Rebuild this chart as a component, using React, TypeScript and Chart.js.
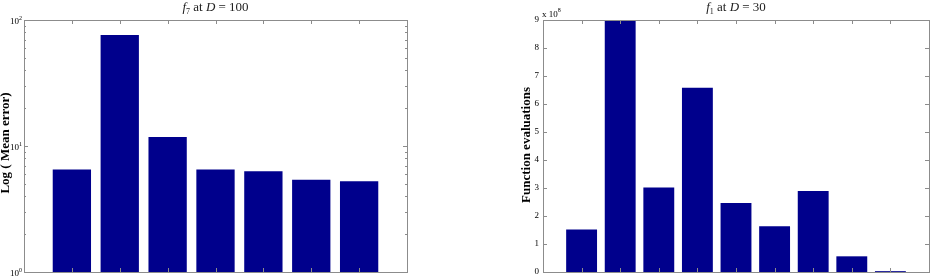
import React, { useEffect, useRef } from "react";
import { Chart, registerables } from "chart.js";

Chart.register(...registerables);

// Left panel: f7 at D = 100 (log scale)
const leftValues = [6.5, 76, 11.8, 6.5, 6.3, 5.4, 5.25];
const leftTicks = [0, 1, 2]; // exponents 10^0..10^2
// Right panel: f1 at D = 30 (x 10^8)
const rightValues = [1.52, 9.0, 3.02, 6.58, 2.46, 1.63, 2.89, 0.56, 0.03];
const rightTicks = [0, 1, 2, 3, 4, 5, 6, 7, 8, 9];

const BAR = "rgb(0,0,140)";
const AXIS = "#8c8c8c";
const SERIF = "'Liberation Serif', 'DejaVu Serif', serif";

function drawBoxAndTicks(ctx: CanvasRenderingContext2D, a: any, xs: number[], ys: number[]) {
  ctx.save();
  ctx.strokeStyle = AXIS;
  ctx.lineWidth = 1;
  ctx.strokeRect(Math.round(a.left) + 0.5, Math.round(a.top) + 0.5, Math.round(a.right - a.left), Math.round(a.bottom - a.top));
  const L = 4;
  ctx.beginPath();
  for (const x of xs) {
    const px = Math.round(x) + 0.5;
    ctx.moveTo(px, a.top); ctx.lineTo(px, a.top + L);
    ctx.moveTo(px, a.bottom); ctx.lineTo(px, a.bottom - L);
  }
  for (const y of ys) {
    const py = Math.round(y) + 0.5;
    ctx.moveTo(a.left, py); ctx.lineTo(a.left + L, py);
    ctx.moveTo(a.right, py); ctx.lineTo(a.right - L, py);
  }
  ctx.stroke();
  ctx.restore();
}

function drawTitle(ctx: CanvasRenderingContext2D, cx: number, y: number, sub: string, rest: string, dval: string) {
  ctx.save();
  ctx.fillStyle = "#222";
  ctx.textBaseline = "alphabetic";
  const parts: [string, string, number][] = [
    ["f", "italic 13px " + SERIF, 0],
    [sub, "8px " + SERIF, 3],
    [" at ", "13px " + SERIF, 0],
    ["D", "italic 13px " + SERIF, 0],
    [" = " + dval, "13px " + SERIF, 0],
  ];
  let w = 0;
  for (const [t, f] of parts) { ctx.font = f; w += ctx.measureText(t).width; }
  let x = cx - w / 2;
  for (const [t, f, dy] of parts) {
    ctx.font = f;
    ctx.fillText(t, x, y + dy);
    x += ctx.measureText(t).width;
  }
  ctx.restore();
}

function drawYTitle(ctx: CanvasRenderingContext2D, x: number, y: number, text: string) {
  ctx.save();
  ctx.translate(x, y);
  ctx.rotate(-Math.PI / 2);
  ctx.font = "bold 13px " + SERIF;
  ctx.fillStyle = "#000";
  ctx.textAlign = "center";
  ctx.textBaseline = "middle";
  ctx.fillText(text, 0, 0);
  ctx.restore();
}

function makeBars(values: number[]) {
  return values.map((v, i) => ({ x: i + 1, y: v }));
}

export default function App() {
  const leftRef = useRef<HTMLCanvasElement>(null);
  const rightRef = useRef<HTMLCanvasElement>(null);

  useEffect(() => {
    const leftPlugin = {
      id: "leftDecor",
      afterDraw(chart: any) {
        const ctx = chart.ctx as CanvasRenderingContext2D;
        const a = chart.chartArea;
        const xs = chart.scales.x;
        const ys = chart.scales.y;
        const xt = leftValues.map((_, i) => xs.getPixelForValue(i + 1));
        ctx.save();
        ctx.strokeStyle = AXIS;
        ctx.beginPath();
        for (const e of leftTicks) {
          for (let m = 1; m <= 9; m++) {
            const v = m * Math.pow(10, e);
            if (v < 1 || v > 100) continue;
            const py = Math.round(ys.getPixelForValue(v)) + 0.5;
            const L = m === 1 ? 4 : 2;
            ctx.moveTo(a.left, py); ctx.lineTo(a.left + L, py);
            ctx.moveTo(a.right, py); ctx.lineTo(a.right - L, py);
          }
        }
        ctx.stroke();
        ctx.restore();
        drawBoxAndTicks(ctx, a, xt, []);
        ctx.save();
        ctx.fillStyle = "#000";
        for (const e of leftTicks) {
          const py = ys.getPixelForValue(Math.pow(10, e));
          ctx.font = "9px " + SERIF;
          ctx.textBaseline = "middle";
          ctx.textAlign = "right";
          ctx.fillText("10", a.left - 5, py + 2);
          ctx.font = "6px " + SERIF;
          ctx.textAlign = "left";
          ctx.fillText(String(e), a.left - 5, py - 2);
        }
        ctx.restore();
        drawYTitle(ctx, 6, 143, "Log ( Mean error)");
        drawTitle(ctx, (a.left + a.right) / 2, 11, "7", " at ", "100");
      },
    };

    const rightPlugin = {
      id: "rightDecor",
      afterDraw(chart: any) {
        const ctx = chart.ctx as CanvasRenderingContext2D;
        const a = chart.chartArea;
        const xs = chart.scales.x;
        const ys = chart.scales.y;
        const xt = rightValues.map((_, i) => xs.getPixelForValue(i + 1));
        const yt = rightTicks.map((t) => ys.getPixelForValue(t));
        drawBoxAndTicks(ctx, a, xt, yt);
        ctx.save();
        ctx.fillStyle = "#000";
        ctx.font = "9px " + SERIF;
        ctx.textAlign = "right";
        ctx.textBaseline = "middle";
        for (const t of rightTicks) {
          ctx.fillText(String(t), a.left - 4, ys.getPixelForValue(t));
        }
        ctx.textAlign = "left";
        ctx.textBaseline = "alphabetic";
        ctx.font = "9px " + SERIF;
        ctx.fillText("x 10", a.left - 1, a.top - 3);
        const w = ctx.measureText("x 10").width;
        ctx.font = "6px " + SERIF;
        ctx.fillText("8", a.left - 1 + w, a.top - 8);
        ctx.restore();
        drawYTitle(ctx, a.left - 16, 145, "Function evaluations");
        drawTitle(ctx, (a.left + a.right) / 2, 11, "1", " at ", "30");
      },
    };

    const common = (values: number[]) => ({
      type: "bar" as const,
      data: {
        datasets: [
          {
            data: makeBars(values),
            backgroundColor: BAR,
            borderWidth: 0,
            barPercentage: 0.8,
            categoryPercentage: 1,
          },
        ],
      },
    });

    const c1 = new Chart(leftRef.current!, {
      ...common(leftValues),
      options: {
        animation: false,
        responsive: false,
        maintainAspectRatio: false,
        layout: { padding: { left: 24, top: 20, right: 59, bottom: 4 } },
        plugins: { legend: { display: false }, tooltip: { enabled: false }, title: { display: false } },
        scales: {
          x: { type: "linear", min: 0, max: 8, offset: false, display: false },
          y: { type: "logarithmic", min: 1, max: 100, display: false },
        },
      },
      plugins: [leftPlugin],
    } as any);

    const c2 = new Chart(rightRef.current!, {
      ...common(rightValues),
      options: {
        animation: false,
        responsive: false,
        maintainAspectRatio: false,
        layout: { padding: { left: 77, top: 20, right: 4, bottom: 4 } },
        plugins: { legend: { display: false }, tooltip: { enabled: false }, title: { display: false } },
        scales: {
          x: { type: "linear", min: 0, max: 10, offset: false, display: false },
          y: { type: "linear", min: 0, max: 9, display: false },
        },
      },
      plugins: [rightPlugin],
    } as any);

    return () => {
      c1.destroy();
      c2.destroy();
    };
  }, []);

  return (
    <div style={{ position: "fixed", left: 0, top: 0, width: 933, height: 276, background: "#fff" }}>
      <canvas ref={leftRef} width={466} height={276} style={{ position: "absolute", left: 0, top: 0, width: 466, height: 276 }} />
      <canvas ref={rightRef} width={467} height={276} style={{ position: "absolute", left: 466, top: 0, width: 467, height: 276 }} />
    </div>
  );
}
